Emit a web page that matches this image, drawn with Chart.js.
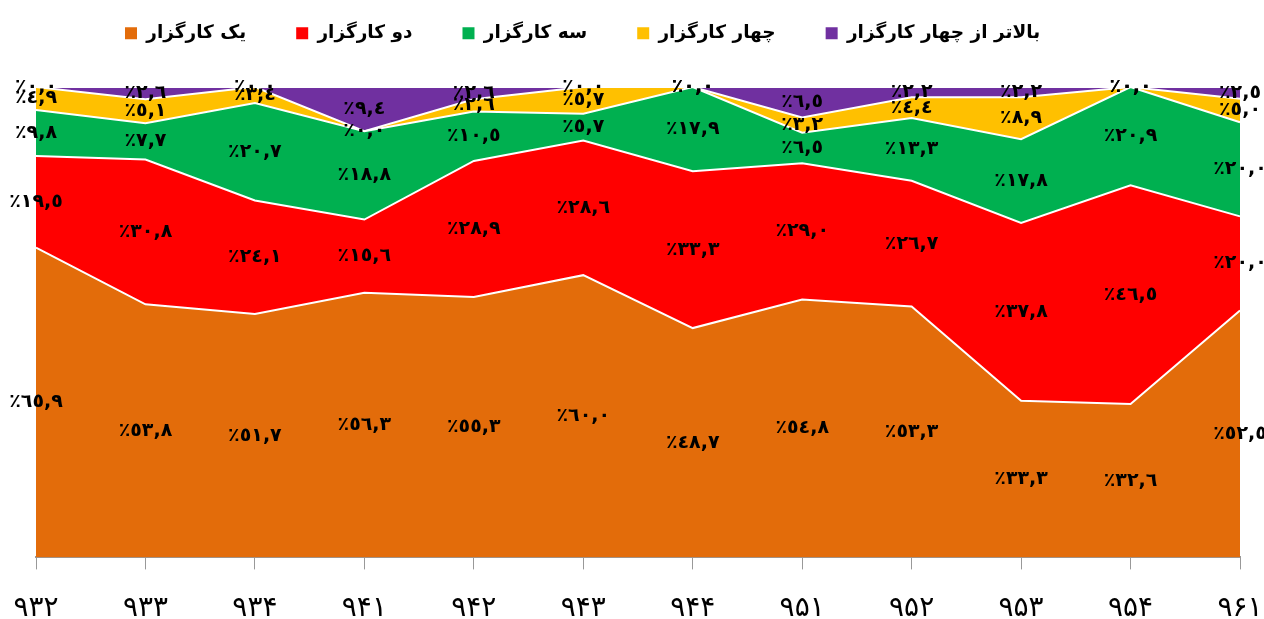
<!DOCTYPE html>
<html>
<head>
<meta charset="utf-8">
<script src="https://cdn.jsdelivr.net/npm/chart.js@4"></script>
<style>
  html, body { margin: 0; padding: 0; background: #fff; }
  #wrap { width: 1264px; height: 619px; }
</style>
</head>
<body>
<div id="wrap"><canvas id="chart" width="1264" height="619"></canvas></div>
<script>
// دوره‌ها (محور افقی)
const periods = ['۹۳۲', '۹۳۳', '۹۳۴', '۹۴۱', '۹۴۲', '۹۴۳', '۹۴۴', '۹۵۱', '۹۵۲', '۹۵۳', '۹۵۴', '۹۶۱'];

// سهم هر گروه (درصد)
const oneBroker   = [65.9, 53.8, 51.7, 56.3, 55.3, 60.0, 48.7, 54.8, 53.3, 33.3, 32.6, 52.5];
const twoBroker   = [19.5, 30.8, 24.1, 15.6, 28.9, 28.6, 33.3, 29.0, 26.7, 37.8, 46.5, 20.0];
const threeBroker = [9.8, 7.7, 20.7, 18.8, 10.5, 5.7, 17.9, 6.5, 13.3, 17.8, 20.9, 20.0];
const fourBroker  = [4.9, 5.1, 3.4, 0.0, 2.6, 5.7, 0.0, 3.2, 4.4, 8.9, 0.0, 5.0];
const moreBroker  = [0.0, 2.6, 0.0, 9.4, 2.6, 0.0, 0.0, 6.5, 2.2, 2.2, 0.0, 2.5];

const seriesNames  = ['یک کارگزار', 'دو کارگزار', 'سه کارگزار', 'چهار کارگزار', 'بالاتر از چهار کارگزار'];
const seriesValues = [oneBroker, twoBroker, threeBroker, fourBroker, moreBroker];
const seriesColors = ['#E36C0A', '#FF0000', '#00B050', '#FFC000', '#7030A0'];

// جمع هر ستون برای نمودار صد درصدی
const totals = periods.map((p, i) => seriesValues.reduce((s, arr) => s + arr[i], 0));

const arabicDigits = (str) => str.replace(/[0-9]/g, d => '٠١٢٣٤٥٦٧٨٩'[d]);

const LEGEND_PAD = 50;

/**
 * برچسب درصد هر لایه را وسط همان لایه می‌نویسد
 */
const areaLabelPlugin = {
    id: 'areaLabels',
    afterDatasetsDraw: (chart) => {
        const ctx = chart.ctx;
        const yScale = chart.scales.y;
        ctx.save();
        ctx.fillStyle = '#000';
        ctx.font = 'bold 19px "DejaVu Sans"';
        ctx.textAlign = 'center';
        ctx.textBaseline = 'middle';
        const base = periods.map(() => 0);
        chart.data.datasets.forEach((dataset, i) => {
            const meta = chart.getDatasetMeta(i);
            meta.data.forEach((pt, j) => {
                const v = dataset.data[j];
                const y = yScale.getPixelForValue(base[j] + v / 2);
                const raw = seriesValues[i][j];
                const text = '٪' + arabicDigits(raw.toFixed(1).replace('.', ','));
                ctx.fillText(text, pt.x, y);
                base[j] += v;
            });
        });
        ctx.restore();
    }
};

// ارتفاع و جای راهنما مثل تصویر اصلی
const legendPlacePlugin = {
    id: 'legendPlace',
    beforeInit: (chart) => {
        const origFit = chart.legend.fit;
        chart.legend.fit = function () {
            origFit.call(this);
            this.height = 87;
        };
    },
    afterUpdate: (chart) => {
        const lg = chart.legend;
        const start = (lg.left + LEGEND_PAD + lg.right - lg.lineWidths[0]) / 2;
        const dx = 125 - start;
        lg.left += dx;
        lg.right += dx;
        lg.top -= LEGEND_PAD - 24;
    }
};

const datasets = seriesValues.map((vals, i) => ({
    label: seriesNames[i],
    data: vals.map((v, j) => v / totals[j] * 100),
    backgroundColor: seriesColors[i],
    borderColor: '#ffffff',
    borderWidth: 2,
    pointRadius: 0,
    tension: 0,
    fill: i === 0 ? 'origin' : '-1',
}));

new Chart(document.getElementById('chart').getContext('2d'), {
    type: 'line',
    data: { labels: periods, datasets: datasets },
    plugins: [areaLabelPlugin, legendPlacePlugin],
    options: {
        responsive: false,
        animation: false,
        layout: { padding: { left: 36, right: 24, top: 0, bottom: 0 } },
        plugins: {
            legend: {
                position: 'top',
                labels: {
                    boxWidth: 12,
                    boxHeight: 12,
                    padding: LEGEND_PAD,
                    color: '#000',
                    font: { family: '"DejaVu Sans"', size: 18.5, weight: 'bold' },
                    generateLabels: (chart) => chart.data.datasets.map((ds, i) => ({
                        text: ds.label,
                        fillStyle: seriesColors[i],
                        strokeStyle: seriesColors[i],
                        lineWidth: 0,
                        datasetIndex: i,
                    })),
                },
            },
            tooltip: { enabled: false },
        },
        scales: {
            x: {
                offset: false,
                grid: { drawOnChartArea: false, drawTicks: true, tickLength: 12, color: '#999' },
                border: { display: true, color: '#999', width: 2 },
                ticks: {
                    color: '#000',
                    padding: 23,
                    maxRotation: 0,
                    font: { family: '"DejaVu Sans"', size: 28 },
                },
                afterFit: (scale) => {
                    scale.paddingLeft = 0;
                    scale.paddingRight = 0;
                    scale.height -= 30;
                },
            },
            y: {
                stacked: true,
                min: 0,
                max: 100,
                display: false,
            },
        },
    },
});
</script>
</body>
</html>
